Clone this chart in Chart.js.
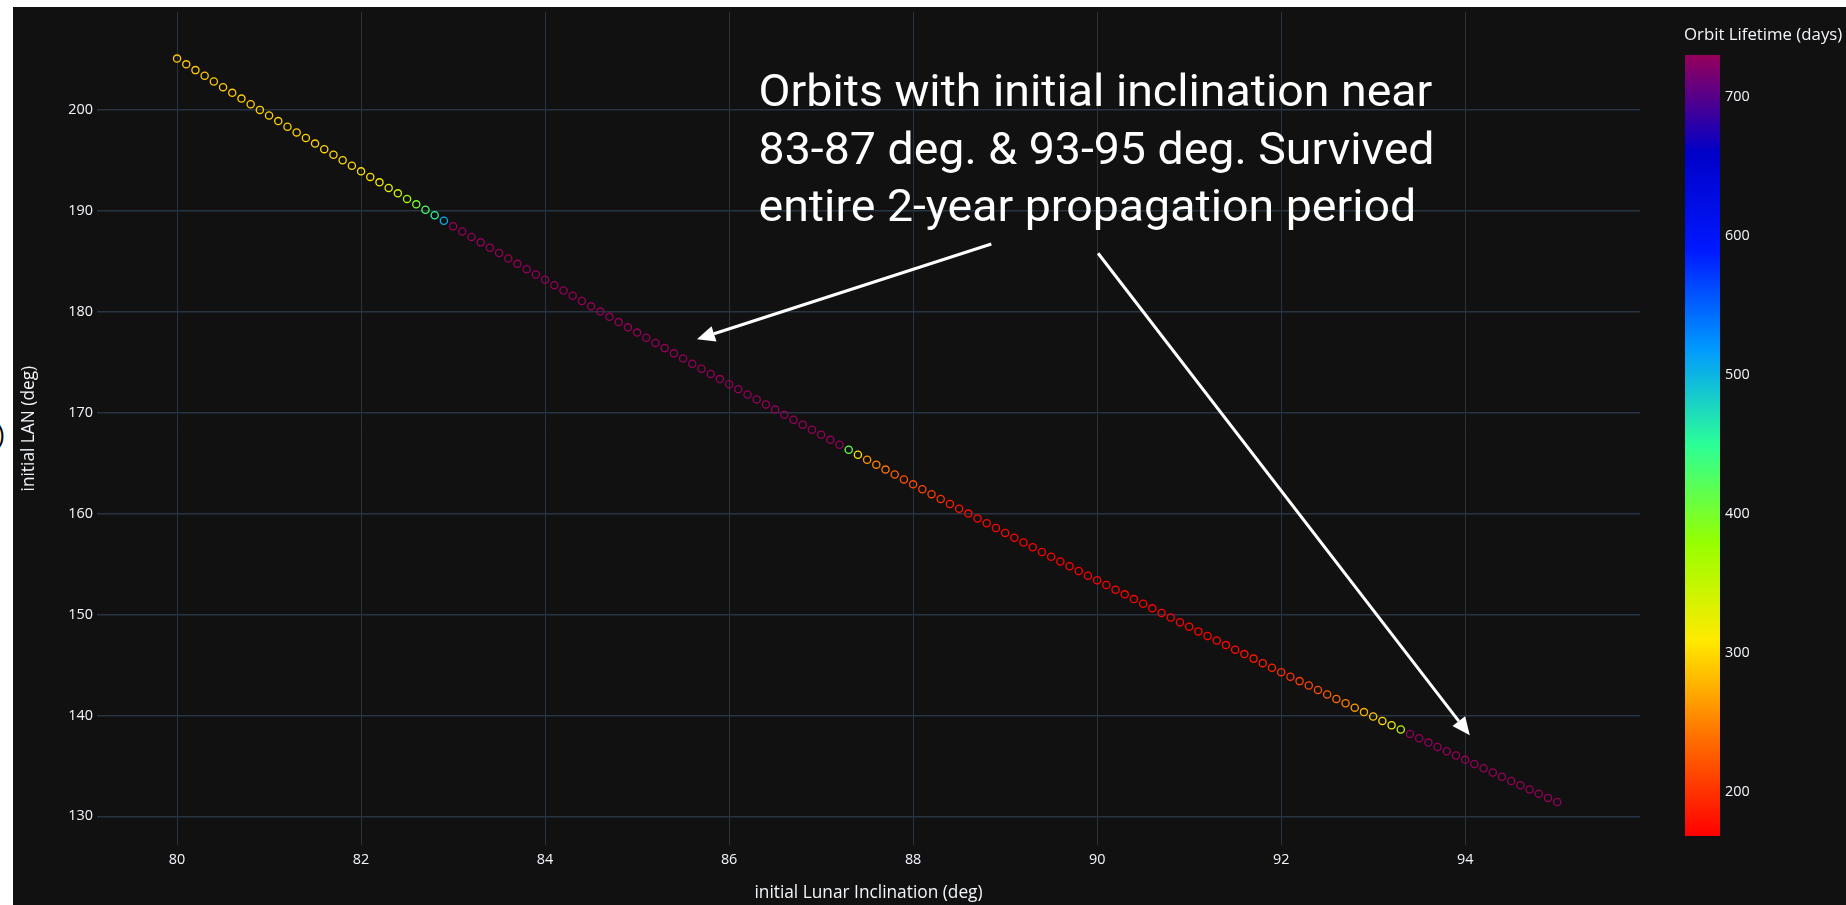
<!DOCTYPE html>
<html lang="en">
<head>
    <meta charset="UTF-8">
    <title>Orbit Lifetime vs initial Lunar Inclination</title>
    <script src="https://cdn.jsdelivr.net/npm/chart.js"></script>
    <style>
        html, body { margin: 0; padding: 0; background: #ffffff; overflow: hidden; }
        #panel { position: absolute; left: 13px; top: 7px; width: 1833px; height: 898px; background: #111111; }
        #cut { position: absolute; left: -3px; top: 421px; font: 25px/1 "Open Sans", sans-serif; color: #000000; }
    </style>
</head>
<body>
    <span id="cut">)</span>
    <div id="panel"><canvas id="orbitChart"></canvas></div>

    <script>
        // initial lunar inclination (deg), one orbit per 0.1 deg
        const inclination = [
            80.0, 80.1, 80.2, 80.3, 80.4, 80.5, 80.6, 80.7, 80.8, 80.9,
            81.0, 81.1, 81.2, 81.3, 81.4, 81.5, 81.6, 81.7, 81.8, 81.9,
            82.0, 82.1, 82.2, 82.3, 82.4, 82.5, 82.6, 82.7, 82.8, 82.9,
            83.0, 83.1, 83.2, 83.3, 83.4, 83.5, 83.6, 83.7, 83.8, 83.9,
            84.0, 84.1, 84.2, 84.3, 84.4, 84.5, 84.6, 84.7, 84.8, 84.9,
            85.0, 85.1, 85.2, 85.3, 85.4, 85.5, 85.6, 85.7, 85.8, 85.9,
            86.0, 86.1, 86.2, 86.3, 86.4, 86.5, 86.6, 86.7, 86.8, 86.9,
            87.0, 87.1, 87.2, 87.3, 87.4, 87.5, 87.6, 87.7, 87.8, 87.9,
            88.0, 88.1, 88.2, 88.3, 88.4, 88.5, 88.6, 88.7, 88.8, 88.9,
            89.0, 89.1, 89.2, 89.3, 89.4, 89.5, 89.6, 89.7, 89.8, 89.9,
            90.0, 90.1, 90.2, 90.3, 90.4, 90.5, 90.6, 90.7, 90.8, 90.9,
            91.0, 91.1, 91.2, 91.3, 91.4, 91.5, 91.6, 91.7, 91.8, 91.9,
            92.0, 92.1, 92.2, 92.3, 92.4, 92.5, 92.6, 92.7, 92.8, 92.9,
            93.0, 93.1, 93.2, 93.3, 93.4, 93.5, 93.6, 93.7, 93.8, 93.9,
            94.0, 94.1, 94.2, 94.3, 94.4, 94.5, 94.6, 94.7, 94.8, 94.9,
            95.0
        ];

        // initial LAN (deg)
        const lan = [
            205.09, 204.52, 203.95, 203.39, 202.82, 202.26, 201.70, 201.13, 200.57, 200.01,
            199.45, 198.90, 198.34, 197.78, 197.23, 196.67, 196.12, 195.57, 195.02, 194.47,
            193.92, 193.37, 192.83, 192.28, 191.74, 191.19, 190.65, 190.11, 189.57, 189.03,
            188.49, 187.95, 187.42, 186.88, 186.35, 185.82, 185.28, 184.75, 184.22, 183.69,
            183.17, 182.64, 182.11, 181.59, 181.07, 180.54, 180.02, 179.50, 178.98, 178.46,
            177.94, 177.43, 176.91, 176.40, 175.88, 175.37, 174.86, 174.35, 173.84, 173.33,
            172.83, 172.32, 171.81, 171.31, 170.81, 170.31, 169.80, 169.30, 168.81, 168.31,
            167.81, 167.31, 166.82, 166.33, 165.83, 165.34, 164.85, 164.36, 163.87, 163.39,
            162.90, 162.41, 161.93, 161.45, 160.96, 160.48, 160.00, 159.52, 159.04, 158.57,
            158.09, 157.62, 157.14, 156.67, 156.20, 155.73, 155.26, 154.79, 154.32, 153.85,
            153.39, 152.92, 152.46, 152.00, 151.53, 151.07, 150.61, 150.16, 149.70, 149.24,
            148.79, 148.33, 147.88, 147.43, 146.97, 146.52, 146.08, 145.63, 145.18, 144.73,
            144.29, 143.84, 143.40, 142.96, 142.52, 142.08, 141.64, 141.20, 140.77, 140.33,
            139.90, 139.46, 139.03, 138.60, 138.17, 137.74, 137.31, 136.88, 136.45, 136.03,
            135.60, 135.18, 134.76, 134.34, 133.92, 133.50, 133.08, 132.66, 132.25, 131.83,
            131.42
        ];

        // orbit lifetime (days), 730 = survived the whole 2-year run
        const lifetime = [
            288, 288, 289, 289, 290, 290, 290, 291, 291, 292,
            292, 293, 293, 294, 295, 296, 297, 298, 299, 300,
            302, 305, 312, 325, 343, 368, 398, 427, 452, 505,
            730, 730, 730, 730, 730, 730, 730, 730, 730, 730,
            730, 730, 730, 730, 730, 730, 730, 730, 730, 730,
            730, 730, 730, 730, 730, 730, 730, 730, 730, 730,
            730, 730, 730, 730, 730, 730, 730, 730, 730, 730,
            730, 730, 730, 412, 305, 260, 252, 243, 229, 220,
            214, 210, 206, 198, 186, 179, 175, 174, 172, 171,
            170, 170, 169, 169, 168, 168, 168, 168, 168, 168,
            168, 168, 168, 168, 168, 168, 169, 169, 169, 169,
            169, 170, 171, 173, 174, 176, 179, 183, 187, 190,
            197, 200, 204, 210, 218, 225, 236, 247, 263, 275,
            291, 302, 317, 352, 730, 730, 730, 730, 730, 730,
            730, 730, 730, 730, 730, 730, 730, 730, 730, 730,
            730
        ];

        const xTicks = [80, 82, 84, 86, 88, 90, 92, 94];
        const yTicks = [130, 140, 150, 160, 170, 180, 190, 200];
        const colorbarTicks = [200, 300, 400, 500, 600, 700];

        // plotly "Rainbow", low = red, high = purple
        const rainbowStops = [
            [0.000, [255, 0, 0]],
            [0.125, [255, 111, 0]],
            [0.250, [255, 234, 0]],
            [0.375, [151, 255, 0]],
            [0.500, [44, 255, 150]],
            [0.625, [0, 152, 255]],
            [0.750, [0, 25, 255]],
            [0.875, [0, 0, 200]],
            [1.000, [150, 0, 90]]
        ];

        const noteLines = [
            'Orbits with initial inclination near',
            '83-87 deg. & 93-95 deg. Survived',
            'entire 2-year propagation period'
        ];
        const noteAnchor = { x: 86.32, y: 200.37 };
        const arrows = [
            { from: [88.85, 186.72], to: [85.65, 177.27], width: 3 },
            { from: [90.01, 185.80], to: [94.05, 138.03], width: 3 }
        ];

        const cmin = Math.min(...lifetime);
        const cmax = Math.max(...lifetime);

        function rgbAt(t) {
            t = Math.max(0, Math.min(1, t));
            for (let i = 1; i < rainbowStops.length; i++) {
                const [t1, c1] = rainbowStops[i];
                if (t <= t1) {
                    const [t0, c0] = rainbowStops[i - 1];
                    const f = (t - t0) / (t1 - t0);
                    const c = c0.map((v, k) => Math.round(v + (c1[k] - v) * f));
                    return `rgb(${c[0]}, ${c[1]}, ${c[2]})`;
                }
            }
            const c = rainbowStops[rainbowStops.length - 1][1];
            return `rgb(${c[0]}, ${c[1]}, ${c[2]})`;
        }

        function drawArrow(ctx, x1, y1, x2, y2, w) {
            const ang = Math.atan2(y2 - y1, x2 - x1);
            const head = 18, half = 8;
            const bx = x2 - head * Math.cos(ang), by = y2 - head * Math.sin(ang);
            ctx.strokeStyle = '#ffffff';
            ctx.fillStyle = '#ffffff';
            ctx.lineWidth = w;
            ctx.beginPath();
            ctx.moveTo(x1, y1);
            ctx.lineTo(bx, by);
            ctx.stroke();
            ctx.beginPath();
            ctx.moveTo(x2, y2);
            ctx.lineTo(bx + half * Math.sin(ang), by - half * Math.cos(ang));
            ctx.lineTo(bx - half * Math.sin(ang), by + half * Math.cos(ang));
            ctx.closePath();
            ctx.fill();
        }

        // colorbar + text box + arrows
        const overlay = {
            id: 'overlay',
            afterDraw(chart) {
                const ctx = chart.ctx;
                const area = chart.chartArea;
                const xs = chart.scales.x, ys = chart.scales.y;
                ctx.save();

                const barL = area.right + 45, barW = 35, barT = 48, barB = 829;
                const grad = ctx.createLinearGradient(0, barB, 0, barT);
                rainbowStops.forEach(([t]) => grad.addColorStop(t, rgbAt(t)));
                ctx.fillStyle = grad;
                ctx.fillRect(barL, barT, barW, barB - barT);

                ctx.fillStyle = '#f2f5fa';
                ctx.font = '14.4px "Open Sans"';
                ctx.textAlign = 'left';
                ctx.textBaseline = 'middle';
                colorbarTicks.forEach(v => {
                    const y = barB - (v - cmin) / (cmax - cmin) * (barB - barT);
                    ctx.fillText(String(v), barL + barW + 5, y);
                });
                ctx.font = '16.8px "Open Sans"';
                ctx.fillText('Orbit Lifetime (days)', barL - 1, 28);

                ctx.fillStyle = '#ffffff';
                ctx.font = '44.6px Roboto';
                ctx.textBaseline = 'alphabetic';
                const widest = Math.max(...noteLines.map(l => ctx.measureText(l).width));
                ctx.save();
                ctx.translate(xs.getPixelForValue(noteAnchor.x), ys.getPixelForValue(noteAnchor.y));
                ctx.scale(676 / widest, 1);
                noteLines.forEach((l, i) => ctx.fillText(l, 0, i * 57.3));
                ctx.restore();

                arrows.forEach(a => {
                    drawArrow(ctx,
                        xs.getPixelForValue(a.from[0]), ys.getPixelForValue(a.from[1]),
                        xs.getPixelForValue(a.to[0]), ys.getPixelForValue(a.to[1]), a.width);
                });
                ctx.restore();
            }
        };

        Chart.defaults.font.family = '"Open Sans", sans-serif';
        Chart.defaults.color = '#f2f5fa';

        new Chart(document.getElementById('orbitChart'), {
            type: 'scatter',
            data: {
                datasets: [{
                    data: inclination.map((x, i) => ({ x: x, y: lan[i] })),
                    pointStyle: 'circle',
                    pointRadius: 3.6,
                    pointBorderWidth: 1.3,
                    pointBackgroundColor: 'rgba(0,0,0,0)',
                    pointBorderColor: lifetime.map(v => rgbAt((v - cmin) / (cmax - cmin))),
                    showLine: false
                }]
            },
            options: {
                responsive: true,
                maintainAspectRatio: false,
                animation: false,
                layout: { padding: { left: 0, top: 4, right: 206, bottom: 0 } },
                plugins: { legend: { display: false }, tooltip: { enabled: false } },
                scales: {
                    x: {
                        type: 'linear',
                        min: 79.13,
                        max: 95.9,
                        afterBuildTicks: s => { s.ticks = xTicks.map(v => ({ value: v })); },
                        afterFit: s => { s.height = 60; s.paddingLeft = 0; s.paddingRight = 0; },
                        border: { display: false },
                        grid: { color: '#283442', lineWidth: 1, drawTicks: false },
                        ticks: { color: '#f2f5fa', font: { size: 14.4 }, padding: 6, autoSkip: false, maxRotation: 0, callback: v => String(v) },
                        title: { display: true, text: 'initial Lunar Inclination (deg)', color: '#f2f5fa', font: { size: 17.3 }, padding: { top: 0, bottom: 2 } }
                    },
                    y: {
                        type: 'linear',
                        min: 127.16,
                        max: 209.68,
                        afterBuildTicks: s => { s.ticks = yTicks.map(v => ({ value: v })); },
                        afterFit: s => { s.width = 84; s.paddingTop = 0; s.paddingBottom = 0; },
                        border: { display: false },
                        grid: { color: '#283442', lineWidth: 1.5, drawTicks: false },
                        ticks: { color: '#f2f5fa', font: { size: 14.4 }, padding: 4, callback: v => String(v) },
                        title: { display: true, text: 'initial LAN (deg)', color: '#f2f5fa', font: { size: 17.3 }, padding: { top: 6, bottom: 0 } }
                    }
                }
            },
            plugins: [overlay]
        });
    </script>
</body>
</html>
